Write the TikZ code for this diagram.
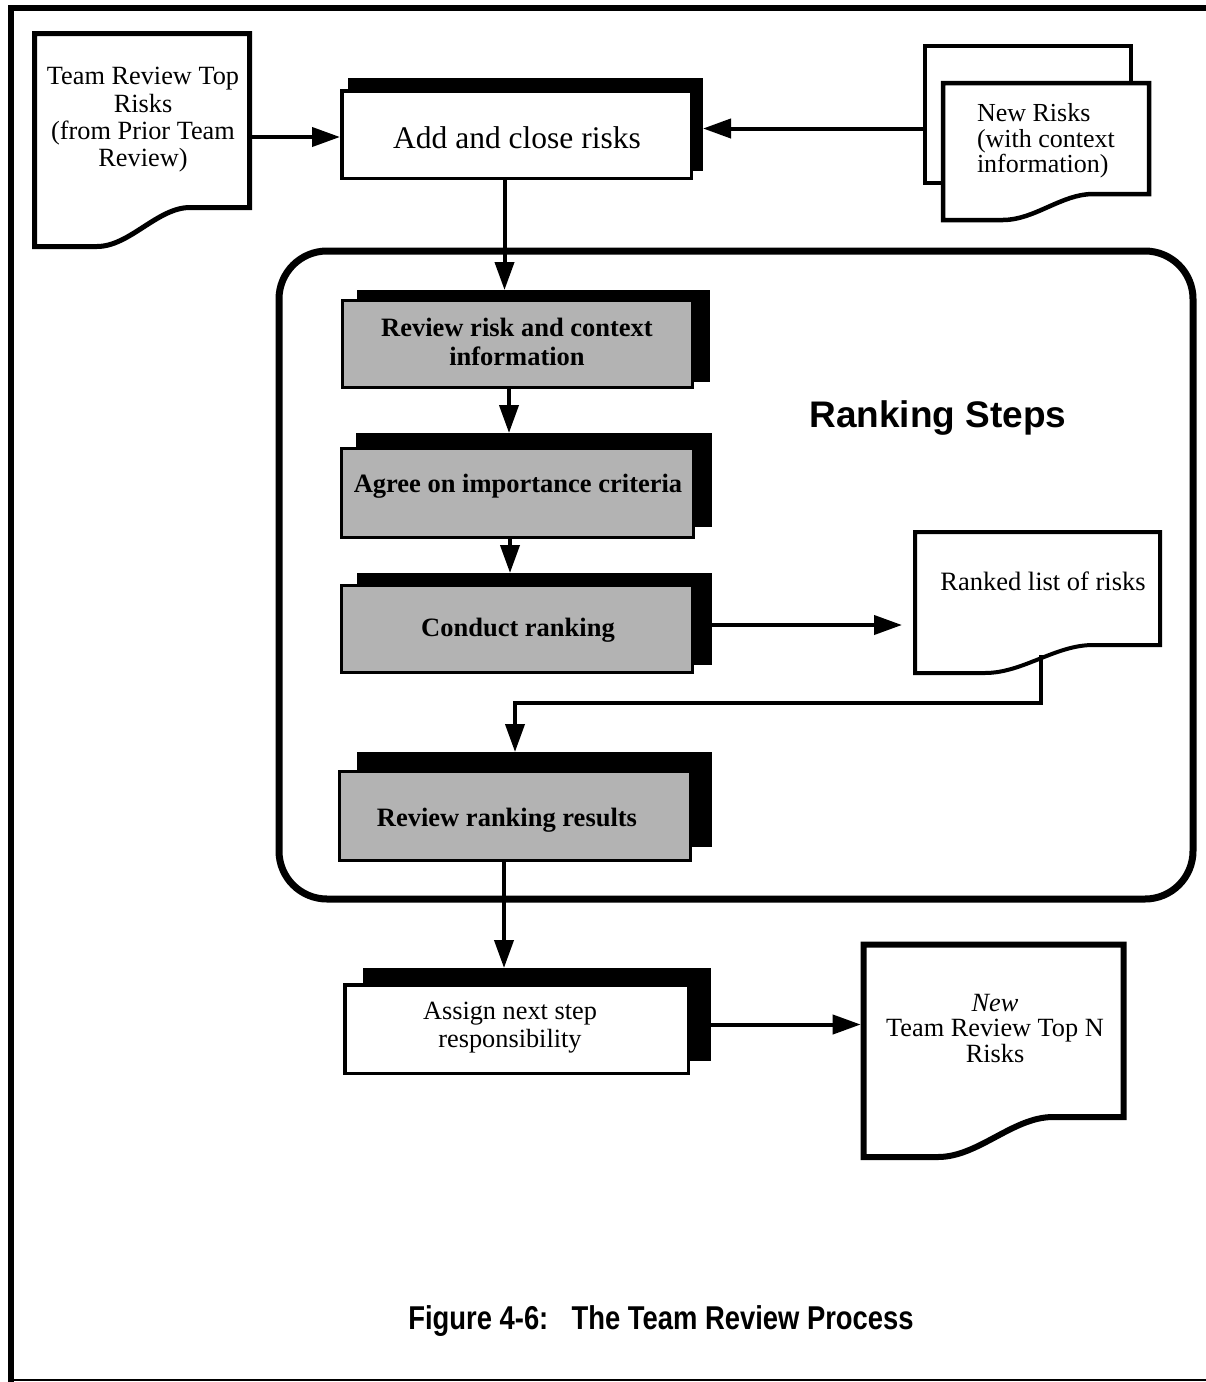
\documentclass[tikz,border=0pt]{standalone}
\usepackage{fontspec}
\usepackage{graphicx}
\setmainfont{Liberation Serif}
\newfontfamily\helv{Liberation Sans}
\usetikzlibrary{arrows.meta,backgrounds}

\pgfdeclarelayer{paper}
\pgfsetlayers{paper,background,main}

\definecolor{boxgray}{RGB}{179,179,179}
\newcommand\fs[2]{\fontsize{#1}{#2}\selectfont}

% document symbol with a wavy bottom edge
% #1 name, #2 line width, #3 left, #4 top, #5 right, #6 right-bottom, #7 bottom, #8 wave start, #9 wave end
\newcommand\docshape[9]{%
  \path[docline, line width=#2pt] (#3,#4) -- (#5,#4) -- (#5,#6) -- (#9,#6)
    .. controls ({#9-0.35*(#9-#8)},#6) and ({#8+0.35*(#9-#8)},#7) .. (#8,#7)
    -- (#3,#7) -- cycle;
  \node[docframe, minimum width={#5-#3+#2}, minimum height={#7-#4+#2}]
    (#1) at ({(#3+#5)/2},{(#4+#7)/2}) {};}

\begin{document}
\begin{tikzpicture}[x=1pt,y=-1pt,
  proc/.style={draw=black, line width=3pt, fill=boxgray, inner sep=0pt},
  whiteproc/.style={proc, fill=white, line width=3.5pt},
  shade/.style={fill=black, draw=none, inner sep=0pt, outer sep=0pt},
  docframe/.style={draw=none, inner sep=0pt, outer sep=0pt},
  docline/.style={draw=black, fill=white, line join=miter},
  txt/.style={inner sep=0pt, outer sep=0pt, align=center},
  plain/.style={txt, font=\fs{26.3}{28}},
  bold/.style={txt, font=\fs{26.5}{29}\bfseries},
  arr/.style={line width=4pt, -{Triangle[length=28pt,width=19pt]}},
]
\useasboundingbox (0,0) rectangle (1206,1382);
\begin{pgfonlayer}{paper}
\fill[white] (0,0) rectangle (1206,1382);
\end{pgfonlayer}

% page frame
\draw[line width=6pt, line join=miter] (1206,8) -- (11,8) -- (11,1382);
\draw[line width=2pt] (11,1380) -- (1206,1380);

% process boxes
\node[whiteproc, minimum width=349.5, minimum height=87.5] (add) at (516.5,134.5) {};
\node[proc, minimum width=350, minimum height=87] (rev) at (517.5,344) {};
\node[proc, minimum width=352, minimum height=89] (agr) at (517.5,493) {};
\node[proc, minimum width=351, minimum height=87] (con) at (517,629) {};
\node[proc, minimum width=351, minimum height=89] (rr) at (515,816) {};
\node[whiteproc, minimum width=343.5, minimum height=88.5] (asg) at (516.5,1029) {};

% solid shadows behind the boxes
\begin{pgfonlayer}{background}
\node[shade, minimum width=355, minimum height=93] (addS) at (525.5,124.5) {};
\node[shade, minimum width=353, minimum height=92] (revS) at (533.5,336) {};
\node[shade, minimum width=356, minimum height=94] (agrS) at (534,480) {};
\node[shade, minimum width=355, minimum height=92] (conS) at (534.5,619) {};
\node[shade, minimum width=355, minimum height=95] (rrS) at (534.5,799.5) {};
\node[shade, minimum width=348, minimum height=93] (asgS) at (537,1014.5) {};
\end{pgfonlayer}

% ranking steps frame
\draw[line width=7pt, rounded corners=48pt] (279,251) rectangle (1193,899);

% documents
\docshape{d1}{5}{34.5}{33.5}{249.5}{207.5}{246.5}{97}{190}
\path[docline, line width=4.5pt] (925,46) rectangle (1131,183);
\node[docframe, minimum width=210, minimum height=141] (nrb) at (1028,114.5) {};
\docshape{nrf}{4.5}{943}{83}{1149}{194}{220}{1003}{1093}
\docshape{rl}{4}{915}{532}{1160}{645}{673}{985}{1093}
\docshape{nd}{6}{863.7}{944.7}{1123.7}{1117}{1157}{938}{1053}
\coordinate (rlout) at (1041,655);

% texts
\node[txt, font=\fs{26.3}{27.3}] (d1T) at (143,120)
  {Team Review Top\\Risks\\(from Prior Team\\Review)};
\node[txt, font=\fs{31.5}{33}] (addT) at (517,137.5) {Add and close risks};
\node[txt, align=left, anchor=west, font=\fs{26}{25.5}] (nrT) at (977,141)
  {New Risks\\(with context\\information)};
\node[bold] (revT) at (517,341.5) {Review risk and context\\information};
\node[bold] (agrT) at (518,486) {Agree on importance criteria};
\node[bold] (conT) at (518,630) {Conduct ranking};
\node[bold] (rrT) at (507,820) {Review ranking results};
\node[plain] (asgT) at (510,1028) {Assign next step\\responsibility};
\node[txt, font=\fs{26.5}{28}] (rlT) at (1043,581) {Ranked list of risks};
\node[txt, font=\fs{26.3}{25.5}] (ndT) at (995,1028.5)
  {\itshape New\\Team Review Top N\\Risks};
\node[txt, font=\helv\bfseries\fs{37}{40}] (rsT) at (938,418) {Ranking Steps};
\node[txt, font=\helv\bfseries\fs{33}{36}] (capT) at (661,1321)
  {\scalebox{0.83}[1]{Figure 4-6:\hspace{28pt}The Team Review Process}};

% connectors
\draw[arr] ([yshift=-2.5pt]add.west -| d1.east) -- ([yshift=-2.5pt]add.west);
\draw[arr] ([yshift=6pt]add.west -| nrb.west) -- ([yshift=6pt]add.west -| addS.east);
\draw[arr] ([xshift=-12pt]add.south) -- ([xshift=-12pt]add.south |- revS.north);
\draw[arr] ([xshift=-8.5pt]rev.south) -- ([xshift=-8.5pt]rev.south |- agrS.north);
\draw[arr] ([xshift=-7.5pt]agr.south) -- ([xshift=-7.5pt]agr.south |- conS.north);
\draw[arr] ([yshift=4pt]con.east -| conS.east) -- ([yshift=4pt,xshift=-11pt]con.east -| rl.west);
\draw[arr] (rlout) -- ++(0,48) -| (rr.north |- rrS.north);
\draw[arr] ([xshift=-11pt]rr.south) -- ([xshift=-11pt]rr.south |- asgS.north);
\draw[arr] ([yshift=4.5pt]asg.east -| asgS.east) -- ([yshift=4.5pt]asg.east -| nd.west);
\end{tikzpicture}
\end{document}
